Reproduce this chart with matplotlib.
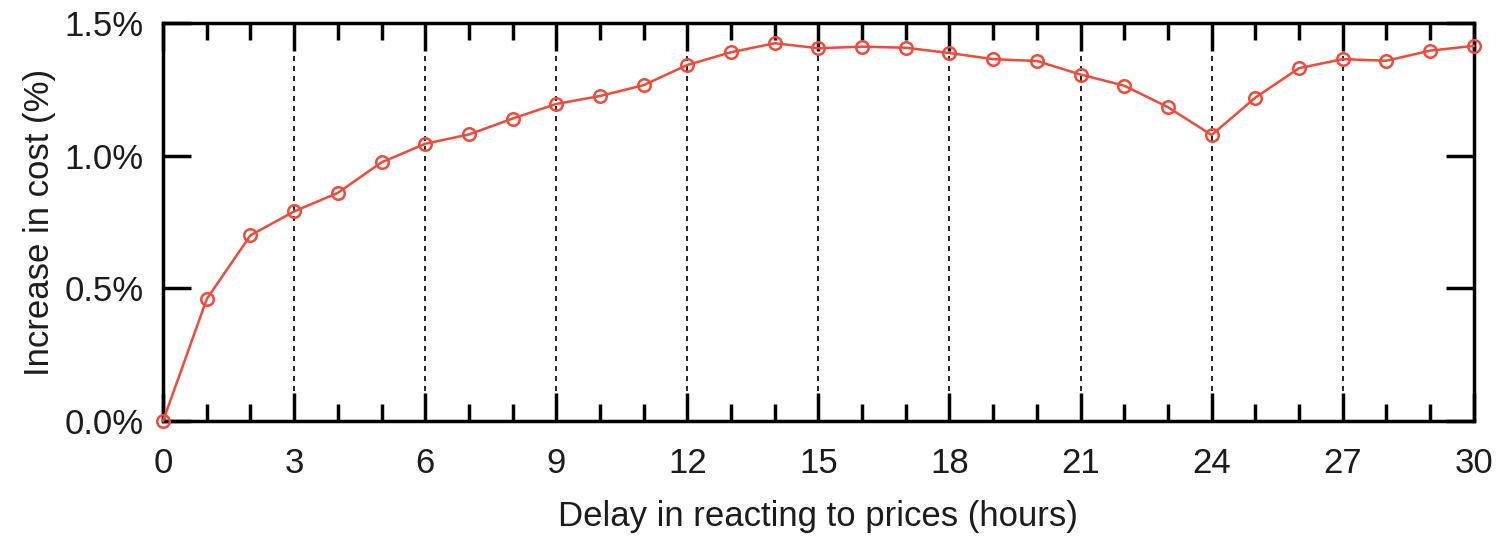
import matplotlib.pyplot as plt
import numpy as np
from matplotlib.ticker import FuncFormatter, MultipleLocator

plt.rcParams['font.family'] = ['Liberation Sans', 'DejaVu Sans']

# delay (hours) vs. increase in cost (%)
delay_hours = list(range(0, 31))
cost_increase = [0.00, 0.46, 0.70, 0.79, 0.86, 0.975, 1.045, 1.08, 1.14, 1.195,
                 1.225, 1.266, 1.342, 1.39, 1.424, 1.405, 1.411, 1.407, 1.387, 1.364,
                 1.357, 1.306, 1.264, 1.183, 1.078, 1.219, 1.33, 1.364, 1.358, 1.396,
                 1.414]
x_major = list(range(0, 31, 3))
y_major = [0.0, 0.5, 1.0, 1.5]

color = '#f04a3a'
text_color = '#1c1c1c'

fig = plt.figure(figsize=(15.1, 5.36), dpi=100)
ax = fig.add_axes([0.108, 0.2146, 0.868, 0.7424])

ax.plot(delay_hours, cost_increase, color=color, linewidth=1.8, marker='o',
        markersize=9, markerfacecolor='none', markeredgecolor=color,
        markeredgewidth=1.8, clip_on=False, zorder=3)

ax.set_xlim(0, 30)
ax.set_ylim(0, 1.5)
ax.set_xticks(x_major)
ax.xaxis.set_minor_locator(MultipleLocator(1))
ax.set_yticks(y_major)
ax.yaxis.set_major_formatter(FuncFormatter(lambda v, p: f'{v:.1f}%'))

for gx in x_major[1:-1]:
    ax.axvline(gx, color='black', linestyle=(0, (3, 3)), linewidth=1.2, zorder=1)

ax.tick_params(which='both', direction='in', top=True, right=True, width=2.5,
               labelsize=25, labelcolor=text_color)
ax.tick_params(axis='x', pad=19)
ax.tick_params(axis='y', pad=14)
ax.tick_params(which='major', length=20)
ax.tick_params(which='minor', length=12)
for s in ax.spines.values():
    s.set_linewidth(2.5)

ax.set_xlabel('Delay in reacting to prices (hours)', fontsize=25, labelpad=14,
              color=text_color)
ax.set_ylabel('Increase in cost (%)', fontsize=25, labelpad=6, color=text_color)

plt.savefig('out.png', dpi=100)
plt.close()
